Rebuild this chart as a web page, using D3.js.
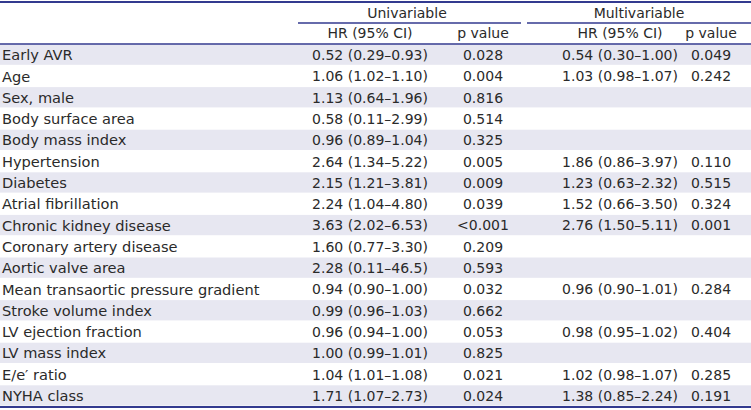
<!DOCTYPE html>
<html><head><meta charset="utf-8">
<script src="https://cdn.jsdelivr.net/npm/d3@7"></script>
<style>body{margin:0;background:#fff}svg{display:block}</style>
</head><body>
<svg id="t" width="751" height="410"></svg>
<script>
const variables = ["Early AVR","Age","Sex, male","Body surface area","Body mass index","Hypertension","Diabetes","Atrial fibrillation","Chronic kidney disease","Coronary artery disease","Aortic valve area","Mean transaortic pressure gradient","Stroke volume index","LV ejection fraction","LV mass index","E/e′ ratio","NYHA class"];
const uniHR = ["0.52 (0.29–0.93)","1.06 (1.02–1.10)","1.13 (0.64–1.96)","0.58 (0.11–2.99)","0.96 (0.89–1.04)","2.64 (1.34–5.22)","2.15 (1.21–3.81)","2.24 (1.04–4.80)","3.63 (2.02–6.53)","1.60 (0.77–3.30)","2.28 (0.11–46.5)","0.94 (0.90–1.00)","0.99 (0.96–1.03)","0.96 (0.94–1.00)","1.00 (0.99–1.01)","1.04 (1.01–1.08)","1.71 (1.07–2.73)"];
const uniP = ["0.028","0.004","0.816","0.514","0.325","0.005","0.009","0.039","<0.001","0.209","0.593","0.032","0.662","0.053","0.825","0.021","0.024"];
const multiHR = ["0.54 (0.30–1.00)","1.03 (0.98–1.07)","","","","1.86 (0.86–3.97)","1.23 (0.63–2.32)","1.52 (0.66–3.50)","2.76 (1.50–5.11)","","","0.96 (0.90–1.01)","","0.98 (0.95–1.02)","","1.02 (0.98–1.07)","1.38 (0.85–2.24)"];
const multiP = ["0.049","0.242","","","","0.110","0.515","0.324","0.001","","","0.284","","0.404","","0.285","0.191"];
const groupLabels = ["Univariable","Multivariable"];
const subLabels = ["HR (95% CI)","p value","HR (95% CI)","p value"];

const W = 751, lineColor = "#333a8f", shade = "#e7e7f1", textColor = "#2a2a2a";
const font = "'DejaVu Sans', sans-serif", fs = 14;
const svg = d3.select("#t").style("font-family", font).style("font-size", fs+"px");

const bodyTop = 44.5, rowH = 21.3;
const y = d3.scaleBand().domain(d3.range(variables.length)).range([bodyTop, bodyTop + rowH*variables.length]).paddingInner(0);
const colX = [370, 483, 620, 711];

// shading
svg.append("g").selectAll("rect").data(variables).join("rect")
  .attr("x", 0).attr("width", W)
  .attr("y", (d,i)=>y(i)).attr("height", y.bandwidth()-1)
  .attr("fill", (d,i)=> i%2===0 ? shade : "#fff");

// body text
const rows = svg.append("g").selectAll("g").data(variables).join("g")
  .attr("transform", (d,i)=>`translate(0,${y(i)+y.bandwidth()/2})`);
rows.append("text").attr("x", 2).attr("dy","0.35em").style("font-size","14.6px").attr("fill", textColor).text(d=>d);
const cols = [uniHR, uniP, multiHR, multiP];
cols.forEach((arr, c)=>{
  rows.append("text").attr("x", colX[c]).attr("dy","0.35em").attr("text-anchor","middle")
    .attr("fill", textColor).text((d,i)=>arr[i]);
});

// header
svg.append("g").selectAll("text").data(groupLabels).join("text")
  .attr("x",(d,i)=> i===0 ? 407 : 639).attr("y", 13).attr("dy","0.35em")
  .attr("text-anchor","middle").attr("fill",textColor).text(d=>d);
svg.append("g").selectAll("text").data(subLabels).join("text")
  .attr("x",(d,i)=>colX[i]).attr("y", 33.5).attr("dy","0.35em")
  .attr("text-anchor","middle").attr("fill",textColor).text(d=>d);

// rules
const rule = (x1,x2,yy,w)=>svg.append("line").attr("x1",x1).attr("x2",x2).attr("y1",yy).attr("y2",yy)
  .attr("stroke",lineColor).attr("stroke-width",w);
rule(0, W, 2, 2);
rule(298, 521, 23, 1.5);
rule(527, W, 23, 1.5);
rule(0, W, 44, 1.5);
rule(0, W, 407, 2);
</script>
</body></html>
